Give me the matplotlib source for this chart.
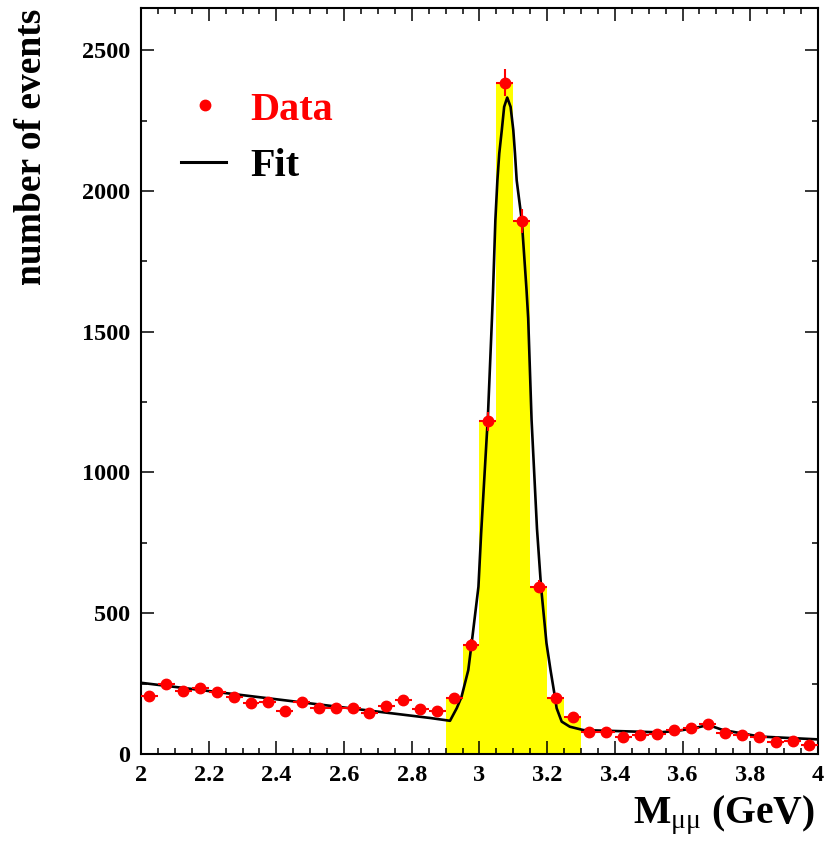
import numpy as np
import matplotlib
matplotlib.use("Agg")
import matplotlib.pyplot as plt
from matplotlib.ticker import MultipleLocator, FixedLocator, FixedFormatter

plt.rcParams['font.family'] = ['Liberation Serif', 'DejaVu Serif']
plt.rcParams['font.weight'] = 'bold'
plt.rcParams['mathtext.fontset'] = 'custom'
plt.rcParams['mathtext.rm'] = 'Liberation Serif:weight=normal'
plt.rcParams['mathtext.it'] = 'Liberation Serif:italic'
plt.rcParams['mathtext.bf'] = 'Liberation Serif:bold'

# ---- data ----
bin_width = 0.05
mass_centers = np.round(np.arange(2.025, 4.0, bin_width), 3)
counts = [207, 250, 224, 235, 219, 203, 180, 186, 154, 183,
          165, 165, 162, 144, 172, 191, 159, 153, 199, 389,
          1182, 2385, 1893, 595, 200, 133, 79, 79, 62, 67,
          70, 84, 92, 105, 76, 67, 59, 41, 47, 32]
signal_window = (2.9, 3.3)

fit_x = [2.000, 2.854, 2.913, 2.933, 2.947, 2.967, 2.977, 2.997, 3.005, 3.025,
         3.037, 3.040, 3.047, 3.053, 3.0585, 3.066, 3.073, 3.082, 3.092, 3.100,
         3.105, 3.110, 3.125, 3.139, 3.144, 3.154, 3.170, 3.182, 3.198, 3.210,
         3.223, 3.228, 3.243, 3.267, 3.307, 3.533, 3.583, 3.632, 3.676, 3.720,
         3.829, 4.000]
fit_y = [253, 128, 118, 163, 203, 298, 394, 594, 785, 1200,
         1548, 1640, 1896, 2038, 2133, 2216, 2299, 2332, 2299, 2216,
         2133, 2038, 1896, 1650, 1548, 1186, 800, 594, 394, 298,
         203, 163, 115, 97, 85, 77, 82, 91, 103, 85,
         62, 52]

x_ticks = [2.0, 2.2, 2.4, 2.6, 2.8, 3.0, 3.2, 3.4, 3.6, 3.8, 4.0]
x_ticklabels = ['2', '2.2', '2.4', '2.6', '2.8', '3', '3.2', '3.4', '3.6', '3.8', '4']
y_ticks = [0, 500, 1000, 1500, 2000, 2500]
y_ticklabels = ['0', '500', '1000', '1500', '2000', '2500']

counts = np.array(counts, dtype=float)
errors = np.sqrt(counts)

# ---- figure ----
fig = plt.figure(figsize=(8.27, 8.42), dpi=100)
ax = fig.add_axes([0.1705, 0.1045, 0.8185, 0.886])

in_win = (mass_centers > signal_window[0]) & (mass_centers < signal_window[1])
ax.bar(mass_centers[in_win], counts[in_win], width=bin_width, color='#ffff00',
       linewidth=0, zorder=1)

ax.plot(fit_x, fit_y, color='black', lw=1.9, zorder=2)

ax.errorbar(mass_centers, counts, yerr=errors, xerr=bin_width / 2, fmt='o',
            color='red', ms=7.5, elinewidth=1.5, capsize=0, zorder=3)

ax.set_xlim(2.0, 4.0)
ax.set_ylim(0, 2650)
ax.xaxis.set_major_locator(FixedLocator(x_ticks))
ax.xaxis.set_major_formatter(FixedFormatter(x_ticklabels))
ax.xaxis.set_minor_locator(MultipleLocator(0.05))
ax.yaxis.set_major_locator(FixedLocator(y_ticks))
ax.yaxis.set_major_formatter(FixedFormatter(y_ticklabels))
ax.yaxis.set_minor_locator(MultipleLocator(250))

ax.tick_params(which='both', direction='in', top=True, right=True, width=1.1,
               labelsize=17.5)
ax.tick_params(which='major', length=9.5, pad=8)
ax.tick_params(which='minor', length=4.3)
for s in ax.spines.values():
    s.set_linewidth(1.5)
for lab in ax.get_xticklabels() + ax.get_yticklabels():
    lab.set_fontweight('bold')

ax.text(0.9956, -0.082, r'M$_{\mathrm{μμ}}$ (GeV)', transform=ax.transAxes,
        ha='right', va='center', fontsize=28.5, fontweight='bold')
ax.text(-0.1625, 0.999, 'number of events', transform=ax.transAxes,
        rotation=90, ha='center', va='top', fontsize=27, fontweight='bold')

# legend
ax.plot([0.0945], [0.870], 'o', color='red', ms=7.5, transform=ax.transAxes,
        clip_on=False)
ax.text(0.161, 0.8499, 'Data', color='red', fontsize=29, fontweight='bold',
        transform=ax.transAxes, ha='left', va='baseline')
ax.plot([0.059, 0.1256], [0.7936, 0.7936], color='black', lw=2.2,
        transform=ax.transAxes, clip_on=False)
ax.text(0.161, 0.7748, 'Fit', color='black', fontsize=29, fontweight='bold',
        transform=ax.transAxes, ha='left', va='baseline')

fig.savefig('out.png', dpi=100)
